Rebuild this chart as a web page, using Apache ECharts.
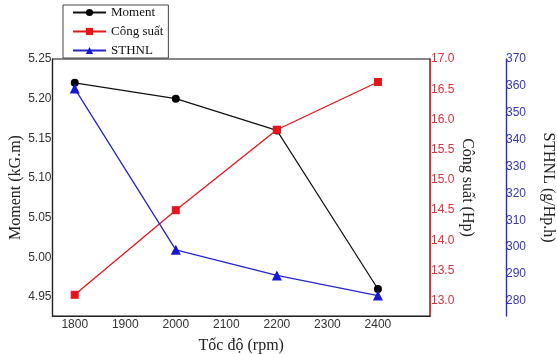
<!DOCTYPE html>
<html>
<head>
<meta charset="utf-8">
<script src="https://cdn.jsdelivr.net/npm/echarts@6/dist/echarts.min.js"></script>
<style>html,body{margin:0;padding:0;background:#fff}#c{width:557px;height:354px}</style>
</head>
<body>
<div id="c"></div>
<script>
const speeds = [1800, 2000, 2200, 2400];
const moment = [5.22, 5.20, 5.16, 4.96];
const congSuat = [13.1, 14.5, 15.83, 16.62];
const sthnl = [359, 299, 289.5, 282];
const xTicks = [1800, 1900, 2000, 2100, 2200, 2300, 2400];
const momentTicks = [4.95, 5.00, 5.05, 5.10, 5.15, 5.20, 5.25];
const powerTicks = [13.0, 13.5, 14.0, 14.5, 15.0, 15.5, 16.0, 16.5, 17.0];
const sthnlTicks = [280, 290, 300, 310, 320, 330, 340, 350, 360, 370];

const pair = (ys) => speeds.map((x, i) => [x, ys[i]]);
const sans = 'Liberation Sans, Arial, sans-serif';
const serif = 'Liberation Serif, Times New Roman, serif';

const chart = echarts.init(document.getElementById('c'), null, {renderer: 'canvas'});
chart.setOption({
  animation: false,
  backgroundColor: '#fff',
  grid: {left: 52.5, right: 127, top: 59, bottom: 38, show: true, borderColor: '#111', borderWidth: 1.2,
    containLabel: false, outerBoundsMode: 'none'},
  legend: {
    orient: 'vertical', left: 63, top: 5,
    padding: [1, 5, 1, 9], itemGap: 6,
    itemWidth: 33, itemHeight: 9,
    borderColor: '#444', borderWidth: 1,
    textStyle: {fontFamily: serif, fontSize: 13, color: '#111'},
    data: ['Moment', 'Công suất', 'STHNL']
  },
  xAxis: {
    type: 'value', min: 1756, max: 2503,
    name: 'Tốc độ (rpm)', nameLocation: 'middle', nameGap: 22,
    nameTextStyle: {fontFamily: serif, fontSize: 16, color: '#222'},
    axisLine: {lineStyle: {color: '#222', width: 1.2}},
    axisTick: {show: false},
    splitLine: {show: false},
    axisLabel: {customValues: xTicks, margin: 3, fontFamily: sans, fontSize: 12, color: '#333',
      formatter: v => String(Math.round(v))}
  },
  yAxis: [
    {
      type: 'value', position: 'left', min: 4.926, max: 5.25,
      name: 'Moment (kG.m)', nameLocation: 'middle', nameGap: 29, nameRotate: 90, nameMoveOverlap: false,
      nameTextStyle: {fontFamily: serif, fontSize: 16, color: '#222'},
      axisLine: {show: true, lineStyle: {color: '#222', width: 1.2}},
      axisTick: {show: false}, splitLine: {show: false},
      axisLabel: {customValues: momentTicks, margin: 1, fontFamily: sans, fontSize: 12, color: '#333',
        formatter: v => v.toFixed(2)}
    },
    {
      type: 'value', position: 'right', min: 12.75, max: 17,
      name: 'Công suất (Hp)', nameLocation: 'middle', nameGap: 29, nameRotate: -90, nameMoveOverlap: false,
      nameTextStyle: {fontFamily: serif, fontSize: 16, color: '#222'},
      axisLine: {show: true, lineStyle: {color: '#d9303a', width: 1.2}},
      axisTick: {show: false}, splitLine: {show: false},
      axisLabel: {customValues: powerTicks, margin: 1, fontFamily: sans, fontSize: 12, color: '#d9303a',
        formatter: v => v.toFixed(1)}
    },
    {
      type: 'value', position: 'right', offset: 76, min: 274.4, max: 370,
      name: 'STHNL (g/Hp.h)', nameLocation: 'middle', nameGap: 34, nameRotate: -90, nameMoveOverlap: false,
      nameTextStyle: {fontFamily: serif, fontSize: 16, color: '#222'},
      axisLine: {show: true, lineStyle: {color: '#2a2acc', width: 1.4}},
      axisTick: {show: false}, splitLine: {show: false},
      axisLabel: {customValues: sthnlTicks, margin: 0, fontFamily: sans, fontSize: 12, color: '#3535c0'}
    }
  ],
  series: [
    {name: 'Moment', type: 'line', yAxisIndex: 0, data: pair(moment),
      symbol: 'circle', symbolSize: 8, color: '#000',
      lineStyle: {color: '#111', width: 1.2}, itemStyle: {color: '#000'}},
    {name: 'Công suất', type: 'line', yAxisIndex: 1, data: pair(congSuat),
      symbol: 'rect', symbolSize: 8, color: '#e8141b',
      lineStyle: {color: '#e8141b', width: 1.3}, itemStyle: {color: '#e8141b'}},
    {name: 'STHNL', type: 'line', yAxisIndex: 2, data: pair(sthnl),
      symbol: 'triangle', symbolSize: 10, color: '#1616d8',
      lineStyle: {color: '#2525c8', width: 1.3}, itemStyle: {color: '#1616d8'}}
  ]
});
</script>
</body>
</html>
